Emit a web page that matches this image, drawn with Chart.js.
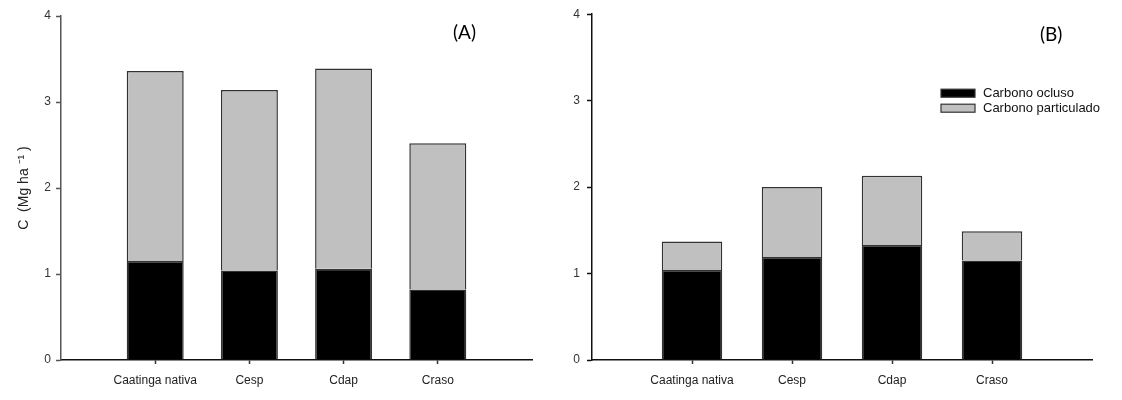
<!DOCTYPE html>
<html><head><meta charset="utf-8">
<script src="https://cdn.jsdelivr.net/npm/chart.js@4.4.0/dist/chart.umd.min.js"></script>
<style>
html,body{margin:0;padding:0;background:#fff;width:1122px;height:400px;overflow:hidden;}
.wrap{position:absolute;top:0;width:561px;height:400px;}
.panel-label{position:absolute;font-family:Lato,'Open Sans',sans-serif;font-size:19px;color:#000;line-height:1;}
</style></head><body>
<div class="wrap" style="left:0"><canvas id="cA" width="561" height="400"></canvas></div>
<div class="wrap" style="left:561px"><canvas id="cB" width="561" height="400"></canvas></div>
<div class="panel-label" style="left:453px;top:22px">(A)</div>
<div class="panel-label" style="left:1040px;top:24px">(B)</div>
<script>
const categories = ['Caatinga nativa', 'Cesp', 'Cdap', 'Craso'];
const occludedA = [1.15, 1.04, 1.06, 0.82];
const particulateA = [2.21, 2.10, 2.33, 1.70];
const occludedB = [1.04, 1.19, 1.33, 1.15];
const particulateB = [0.33, 0.81, 0.80, 0.34];
const yTickValues = [0, 1, 2, 3, 4];
const seriesNames = ['Carbono ocluso', 'Carbono particulado'];
const yTitle = 'C  (Mg ha \u207B\u00B9 )';

const FONT = "'Liberation Sans', Arial, sans-serif";
const pad = arr => [null, ...arr, null];
const labels = ['', ...categories, ''];

function makeDatasets(occ, part) {
  return [
    { label: seriesNames[0], data: pad(occ), backgroundColor: '#000000', borderColor: '#333', borderWidth: 1.5, barPercentage: 0.605, categoryPercentage: 1 },
    { label: seriesNames[1], data: pad(part), backgroundColor: '#c0c0c0', borderColor: '#333', borderWidth: 1.5, barPercentage: 0.605, categoryPercentage: 1 }
  ];
}

const innerLegend = {
  id: 'innerLegend',
  afterDraw(chart, args, opts) {
    if (!opts || !opts.show) return;
    const ctx = chart.ctx;
    const ca = chart.chartArea;
    const x0 = ca.left + opts.dx, y0 = ca.top + opts.dy;
    ctx.save();
    ctx.font = "13px " + FONT;
    ctx.textBaseline = 'middle';
    ctx.textAlign = 'left';
    chart.data.datasets.forEach((ds, i) => {
      const y = y0 + i * 15;
      ctx.fillStyle = ds.backgroundColor;
      ctx.fillRect(x0, y, 34, 8);
      ctx.lineWidth = 1.2;
      ctx.strokeStyle = '#333';
      ctx.strokeRect(x0, y, 34, 8);
      ctx.fillStyle = '#111';
      ctx.fillText(ds.label, x0 + 42, y + 4.5);
    });
    ctx.restore();
  }
};

function makeChart(id, occ, part, cfg) {
  return new Chart(document.getElementById(id), {
    type: 'bar',
    data: { labels: labels, datasets: makeDatasets(occ, part) },
    plugins: [innerLegend],
    options: {
      responsive: false,
      animation: false,
      layout: { padding: { left: 0, top: cfg.top, right: cfg.right, bottom: 0 } },
      plugins: {
        legend: { display: false },
        tooltip: { enabled: false },
        innerLegend: { show: cfg.legend, dx: 349, dy: 75 }
      },
      scales: {
        x: {
          stacked: true,
          offset: false,
          afterFit: s => { s.height = 40; },
          border: { display: true, color: '#111', width: 1.5 },
          grid: {
            display: true, offset: false, drawOnChartArea: false, drawTicks: true, tickLength: 4,
            tickColor: c => (c.index === 0 || c.index === labels.length - 1) ? 'rgba(0,0,0,0)' : '#333',
            tickWidth: 1.5
          },
          ticks: { autoSkip: false, maxRotation: 0, minRotation: 0, padding: 9, color: '#222', font: { family: FONT, size: 12 } }
        },
        y: {
          stacked: true,
          min: 0, max: 4,
          afterFit: s => { s.width = cfg.yWidth; },
          afterBuildTicks: s => { s.ticks = yTickValues.map(v => ({ value: v })); },
          border: { display: true, color: cfg.yAxisColor, width: 1.5 },
          grid: { display: true, drawOnChartArea: false, drawTicks: true, tickLength: 5, tickColor: cfg.yAxisColor, tickWidth: 1.5 },
          ticks: { padding: cfg.yPad, color: '#333', font: { family: FONT, size: 12 } },
          title: cfg.title ? { display: true, text: yTitle, color: '#222', font: { family: FONT, size: 14 }, padding: { top: 16, bottom: 0 } } : { display: false }
        }
      }
    }
  });
}

makeChart('cA', occludedA, particulateA, { top: 16, right: 29, yWidth: 61, yPad: 5, yAxisColor: '#555', title: true, legend: false });
makeChart('cB', occludedB, particulateB, { top: 12, right: 30, yWidth: 31, yPad: 7, yAxisColor: '#111', title: false, legend: true });
</script>
</body></html>
